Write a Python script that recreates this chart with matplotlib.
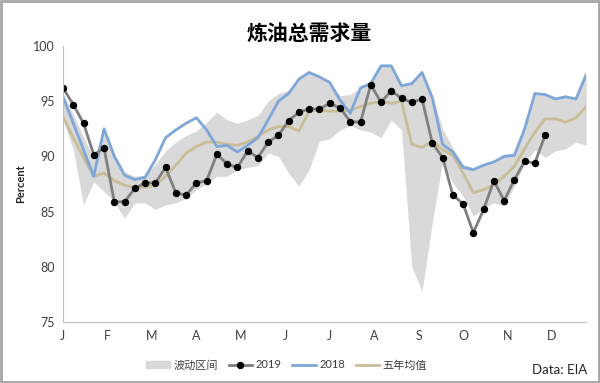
import matplotlib
matplotlib.use("Agg")
import matplotlib.pyplot as plt
from matplotlib.patches import Patch, Rectangle
from matplotlib.lines import Line2D
import numpy as np

plt.rcParams["font.family"] = ["Lato", "Noto Sans CJK SC", "DejaVu Sans"]

# weekly data, week 0..51
weeks = np.arange(52)
month_labels = ["J", "F", "M", "A", "M", "J", "J", "A", "S", "O", "N", "D"]

band_low = [93.3, 90.6, 85.6, 87.7, 86.8, 85.9, 84.4, 85.8, 85.8, 85.2, 85.6, 85.8,
            86.2, 87.0, 87.5, 88.2, 88.2, 88.8, 89.0, 89.2, 90.3, 90.0, 88.5, 87.3,
            88.8, 91.4, 91.6, 92.4, 92.8, 92.4, 92.2, 91.7, 93.3, 92.4, 80.0, 77.8,
            84.0, 89.5, 87.6, 86.4, 84.6, 85.3, 85.8, 85.5, 87.3, 89.4, 90.6, 89.9,
            90.5, 90.7, 91.3, 91.0]
band_high = [95.7, 93.8, 91.8, 89.8, 92.6, 90.3, 88.6, 88.2, 88.3, 89.3, 90.5, 91.3,
             91.9, 92.3, 93.1, 94.0, 93.3, 93.0, 93.3, 93.7, 95.0, 95.7, 96.0, 97.0,
             97.6, 97.2, 96.7, 95.5, 95.6, 96.2, 96.6, 98.2, 98.2, 96.4, 96.6, 97.6,
             95.6, 92.5, 90.8, 89.3, 89.0, 89.3, 89.6, 90.2, 90.3, 92.6, 95.7, 95.6,
             95.2, 95.5, 95.3, 97.4]
y2018 = [95.4, 93.0, 90.6, 88.2, 92.5, 90.0, 88.3, 87.9, 88.1, 89.7, 91.7, 92.4,
         93.0, 93.5, 92.4, 90.9, 91.0, 90.4, 91.0, 91.7, 93.3, 95.0, 95.7, 97.0,
         97.6, 97.2, 96.7, 95.1, 93.9, 96.2, 96.6, 98.2, 98.2, 96.4, 96.6, 97.6,
         95.3, 91.1, 90.4, 89.0, 88.8, 89.2, 89.5, 90.0, 90.1, 92.5, 95.7, 95.6,
         95.2, 95.4, 95.2, 97.4]
avg5 = [93.6, 91.7, 89.9, 88.2, 88.5, 87.8, 87.4, 87.2, 87.2, 87.4, 88.2, 89.2,
        90.3, 90.9, 91.3, 91.3, 91.1, 91.0, 91.3, 91.8, 92.4, 92.7, 92.7, 92.3,
        94.1, 94.2, 94.1, 94.1, 94.2, 94.5, 94.8, 95.0, 94.8, 95.0, 91.1, 90.8,
        91.4, 90.6, 90.1, 88.5, 86.7, 87.0, 87.4, 88.2, 89.1, 90.7, 92.2, 93.4,
        93.4, 93.1, 93.5, 94.5]
y2019 = [96.2, 94.7, 93.0, 90.15, 90.75, 85.9, 85.9, 87.1, 87.6, 87.6, 89.0, 86.7,
         86.5, 87.6, 87.8, 90.2, 89.3, 89.0, 90.5, 89.9, 91.3, 91.9, 93.25, 94.0,
         94.3, 94.3, 94.8, 94.4, 93.15, 93.1, 96.5, 94.9, 95.95, 95.25, 94.9, 95.2,
         91.2, 89.9, 86.5, 85.7, 83.1, 85.2, 87.8, 86.0, 87.9, 89.55, 89.4, 91.95]

c_band = "#d9d9d9"
c_2018 = "#7ea6d8"
c_avg = "#c9bd98"
c_2019 = "#7f7f7f"

fig = plt.figure(figsize=(6, 3.83), dpi=100)
ax = fig.add_axes([0.105, 0.159, 0.872, 0.721])

ax.fill_between(weeks, band_low, band_high, color=c_band, lw=0)
ax.plot(weeks, avg5, color=c_avg, lw=2)
ax.plot(weeks, y2018, color=c_2018, lw=2)
ax.plot(np.arange(len(y2019)), y2019, color=c_2019, lw=2,
        marker="o", ms=4.3, mfc="black", mec="black")

ax.set_xlim(0, 51)
ax.set_ylim(75, 100)
ax.set_yticks([75, 80, 85, 90, 95, 100])
ax.set_xticks([i * 52 / 12 for i in range(12)])
ax.set_xticklabels(month_labels)
ax.tick_params(length=0, labelsize=9, colors="#404040", pad=6)
for s in ["top", "right"]:
    ax.spines[s].set_visible(False)
for s in ["left", "bottom"]:
    ax.spines[s].set_color("#bfbfbf")

ax.set_ylabel("Percent", fontsize=8, fontweight="bold", color="#262626", labelpad=5)

fig.text(0.515, 0.912, "炼油总需求量", ha="center", va="center", fontsize=15,
         fontweight="bold", family=["Noto Sans CJK SC"])

handles = [
    Patch(color=c_band),
    Line2D([], [], color=c_2019, lw=2, marker="o", ms=4.3, mfc="black", mec="black"),
    Line2D([], [], color=c_2018, lw=2),
    Line2D([], [], color=c_avg, lw=2),
]
labels = ["波动区间", "2019", "2018", "五年均值"]
leg = fig.legend(handles, labels, loc="center", bbox_to_anchor=(0.478, 0.047), ncol=4,
                 frameon=False, fontsize=8, handlelength=2.1, columnspacing=1.0,
                 handletextpad=0.3)
for t in leg.get_texts():
    t.set_color("#404040")

fig.text(0.978, 0.035, "Data: EIA", ha="right", va="center", fontsize=9.5, color="#262626")

fig.patches.append(Rectangle((0.002, 0.003), 0.996, 0.994, transform=fig.transFigure,
                             fill=False, ec="#a6a6a6", lw=2))

fig.savefig("out.png", dpi=100)
